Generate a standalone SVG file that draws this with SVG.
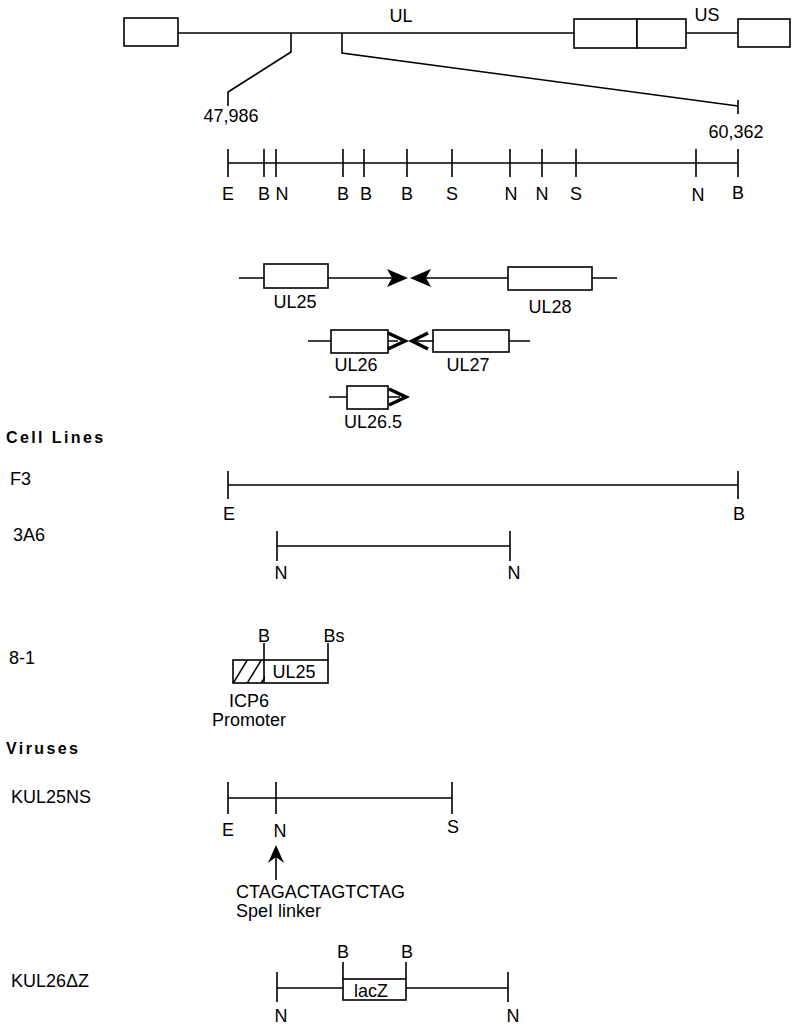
<svg xmlns="http://www.w3.org/2000/svg" width="800" height="1028" viewBox="0 0 800 1028">
<style>
.l{stroke:#000;stroke-width:1.6;fill:none}
.b{stroke:#000;stroke-width:1.6;fill:#fff}
.t{font-family:"Liberation Sans",Arial,sans-serif;font-size:18px;fill:#000}
.m{text-anchor:middle}
.h{font-weight:bold;font-size:16px;letter-spacing:2.4px}
.c{stroke:#000;stroke-width:3.5;fill:none;stroke-linejoin:miter}
.a{fill:#000}
</style>
<rect width="800" height="1028" fill="#fff"/>
<g id="genome">
<line class="l" x1="178" y1="33" x2="574" y2="33"/>
<line class="l" x1="686" y1="33" x2="738" y2="33"/>
<rect class="b" x="124" y="18" width="54" height="28"/>
<rect class="b" x="574" y="19" width="63" height="29"/>
<rect class="b" x="637" y="19" width="49" height="29"/>
<rect class="b" x="738" y="19" width="52" height="28"/>
<text class="t m" x="401" y="22" font-size="21">UL</text>
<text class="t m" x="707" y="21" font-size="21">US</text>
</g>
<g id="connectors">
<polyline class="l" points="291,33 291,52 228,92 228,106"/>
<polyline class="l" points="342,33 342,53 738,106"/>
<line class="l" x1="738" y1="100" x2="738" y2="114"/>
</g>
<g id="coords">
<text class="t m" x="231" y="122">47,986</text>
<text class="t m" x="736" y="138">60,362</text>
</g>
<g id="restriction-map">
<line class="l" x1="228" y1="163" x2="738" y2="163"/>
<path class="l" d="M228,149V177M264,149V177M276,149V177M343,149V177M364,149V177M407,149V177M452,149V177M510,149V177M542,149V177M576,149V177M696,149V177M738,149V177"/>
<text class="t m" x="228" y="200">E</text>
<text class="t m" x="264" y="200">B</text>
<text class="t m" x="282" y="200">N</text>
<text class="t m" x="343" y="200">B</text>
<text class="t m" x="366" y="200">B</text>
<text class="t m" x="407" y="200">B</text>
<text class="t m" x="452" y="200">S</text>
<text class="t m" x="511" y="200">N</text>
<text class="t m" x="542" y="200">N</text>
<text class="t m" x="576" y="200">S</text>
<text class="t m" x="698" y="201">N</text>
<text class="t m" x="738" y="199">B</text>
</g>
<g id="UL25">
<line class="l" x1="239" y1="278" x2="400" y2="278"/>
<rect class="b" x="264" y="264" width="64" height="24"/>
<polygon class="a" points="387,269 408,278 387,287 392,278"/>
<text class="t m" x="295" y="308">UL25</text>
</g>
<g id="UL28">
<line class="l" x1="418" y1="278" x2="617" y2="278"/>
<rect class="b" x="508" y="267" width="84" height="23"/>
<polygon class="a" points="431,269 410,278 431,287 426,278"/>
<text class="t m" x="550" y="313">UL28</text>
</g>
<g id="UL26">
<line class="l" x1="308" y1="341" x2="398" y2="341"/>
<rect class="b" x="331" y="330" width="57" height="23"/>
<polyline class="c" points="388,333 405,341 388,349"/>
<text class="t m" x="356" y="371">UL26</text>
</g>
<g id="UL27">
<line class="l" x1="414" y1="341" x2="530" y2="341"/>
<rect class="b" x="433" y="330" width="76" height="22"/>
<polyline class="c" points="428,333 412,341 428,349"/>
<text class="t m" x="468" y="371">UL27</text>
</g>
<g id="UL26.5">
<line class="l" x1="329" y1="397" x2="400" y2="397"/>
<rect class="b" x="347" y="386" width="41" height="23"/>
<polyline class="c" points="389,389 406,397 389,405"/>
<text class="t m" x="373" y="428">UL26.5</text>
</g>
<g id="cell-lines-header">
<text class="t h" x="6" y="443">Cell  Lines</text>
</g>
<g id="F3">
<text class="t" x="10" y="485">F3</text>
<line class="l" x1="228" y1="485" x2="738" y2="485"/>
<path class="l" d="M228,471V499M738,471V499"/>
<text class="t m" x="229" y="520">E</text>
<text class="t m" x="739" y="520">B</text>
</g>
<g id="3A6">
<text class="t" x="13" y="541">3A6</text>
<line class="l" x1="277" y1="546" x2="510" y2="546"/>
<path class="l" d="M277,531V561M510,531V561"/>
<text class="t m" x="281" y="579">N</text>
<text class="t m" x="514" y="579">N</text>
</g>
<g id="8-1">
<defs>
<clipPath id="hc"><rect x="233" y="660" width="32" height="23"/></clipPath>
</defs>
<text class="t" x="9" y="664">8-1</text>
<rect class="b" x="233" y="660" width="95" height="23"/>
<g clip-path="url(#hc)">
<path class="l" stroke-width="1.2" d="M229,690L251,654M243,690L265,654M257,690L279,654"/>
</g>
<line class="l" x1="264" y1="643" x2="264" y2="683"/>
<line class="l" x1="328" y1="643" x2="328" y2="660"/>
<text class="t m" x="264" y="642">B</text>
<text class="t m" x="334" y="642">Bs</text>
<text class="t m" x="294" y="678">UL25</text>
<text class="t m" x="249" y="707">ICP6</text>
<text class="t m" x="249" y="726">Promoter</text>
</g>
<g id="viruses-header">
<text class="t h" x="6" y="754">Viruses</text>
</g>
<g id="KUL25NS">
<text class="t" x="11" y="803">KUL25NS</text>
<line class="l" x1="228" y1="798" x2="452" y2="798"/>
<path class="l" d="M228,782V814M276,782V814M452,782V814"/>
<text class="t m" x="228" y="836">E</text>
<text class="t m" x="280" y="837">N</text>
<text class="t m" x="453" y="833">S</text>
<line class="l" x1="276" y1="880" x2="276" y2="850"/>
<polygon class="a" points="276,845 284,863 276,857 268,863"/>
<text class="t" x="236" y="898" font-size="18.7">CTAGACTAGTCTAG</text>
<text class="t" x="236" y="917">SpeI linker</text>
</g>
<g id="KUL26DZ">
<text class="t" x="11" y="987">KUL26ΔZ</text>
<line class="l" x1="277" y1="988" x2="508" y2="988"/>
<path class="l" d="M277,972V1002M508,972V1002"/>
<rect class="b" x="343" y="979" width="63" height="21"/>
<line class="l" x1="343" y1="962" x2="343" y2="979"/>
<line class="l" x1="406" y1="962" x2="406" y2="979"/>
<text class="t m" x="343" y="958">B</text>
<text class="t m" x="407" y="958">B</text>
<text class="t m" x="371" y="997">lacZ</text>
<text class="t m" x="281" y="1022">N</text>
<text class="t m" x="513" y="1022">N</text>
</g>
</svg>
